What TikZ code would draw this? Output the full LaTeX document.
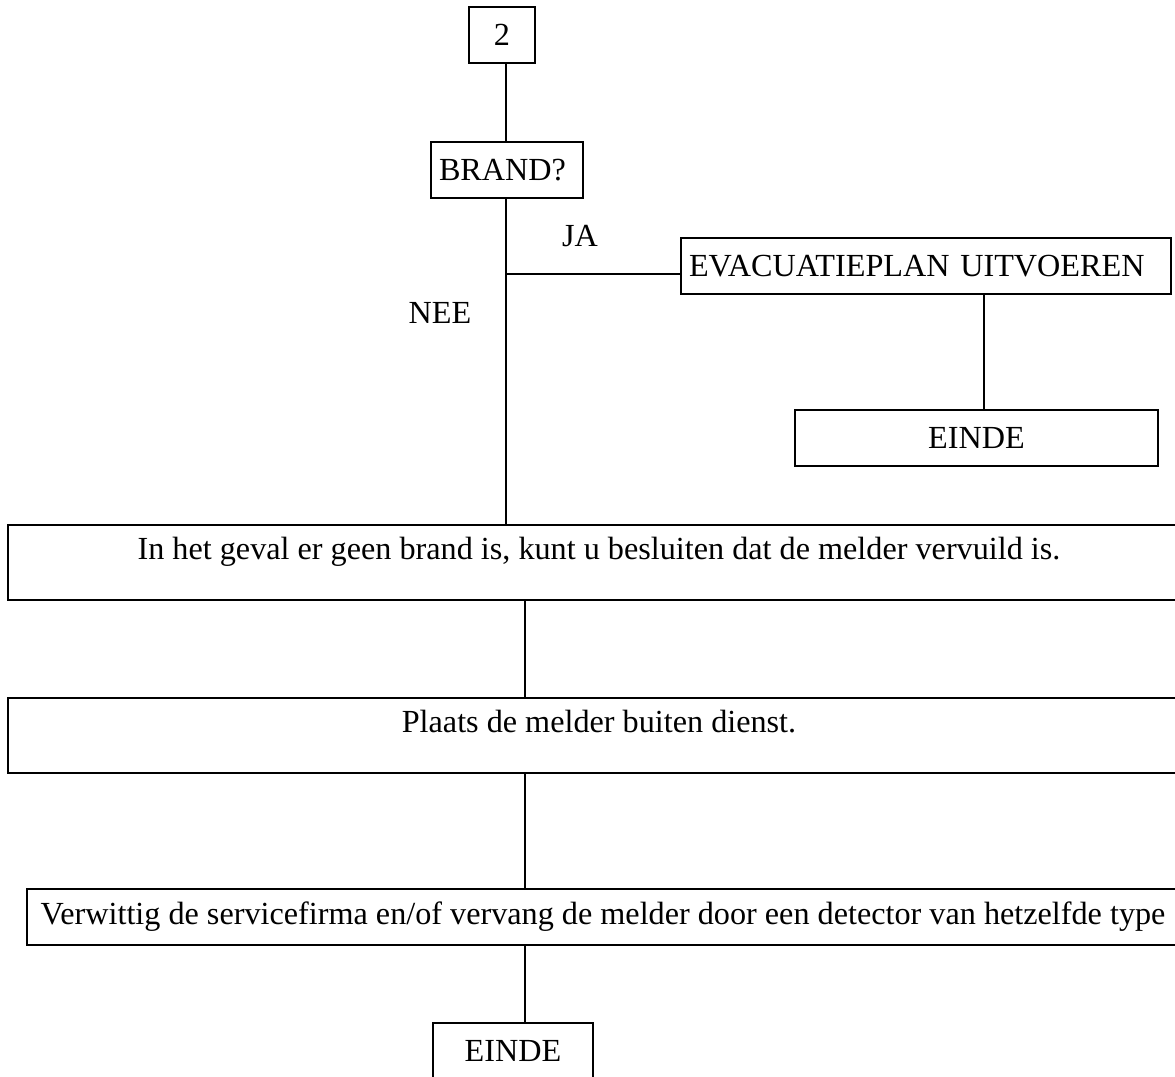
\documentclass[tikz,border=0pt]{standalone}
\usepackage{fontspec}
\setmainfont{Liberation Serif}
\begin{document}
\begin{tikzpicture}[x = 0.5pt, y = -0.5pt, line width = 1pt,
            every node/.style = {font = \fontsize{16.1}{19}\selectfont, inner sep = 0pt},
            box/.style = {draw, minimum height = 28pt, anchor = north west},
            leftbox/.style = {box, align = left, inner xsep = 4pt, text width = #1},
            wide/.style = {box, minimum width = #1, minimum height = 37.5pt,
                text height = 11pt, text depth = 14.5pt}]
            \tikzset{every path/.style = {line width = 1pt}}
            \useasboundingbox (0,0) rectangle (1175,1077);
            \node[box, minimum width = 33pt] (two) at (468,6) {2};
            \node[leftbox = 68pt] (brand) at (430,141) {BRAND?};
            \node[leftbox = 237pt] (evac) at (680,237) {EVACUATIEPLAN UITVOEREN};
            \node[box, minimum width = 181.5pt] (einde1) at (794,409) {EINDE};
            \node[wide = 591pt] (geval) at (7,524)
                {In het geval er geen brand is, kunt u besluiten dat de melder vervuild is.};
            \node[wide = 591pt] (plaats) at (7,697) {Plaats de melder buiten dienst.};
            \node[box, minimum width = 576pt] (verwittig) at (26,888)
                {Verwittig de servicefirma en/of vervang de melder door een detector van hetzelfde type};
            \node[box, minimum width = 80pt] (einde2) at (432,1022) {EINDE};
            \node (ja) at (580,236) {JA};
            \node (nee) at (440,313) {NEE};
            \coordinate (top) at (506,0);
            \coordinate (split) at (506,274);
            \coordinate (evacx) at (984,0);
            \coordinate (trunk) at (525,0);
            \draw (top |- two.south) -- (top |- brand.north);
            \draw (top |- brand.south) -- (top |- geval.north);
            \draw (split) -- (split -| evac.west);
            \draw (evacx |- evac.south) -- (evacx |- einde1.north);
            \draw (trunk |- geval.south) -- (trunk |- plaats.north);
            \draw (trunk |- plaats.south) -- (trunk |- verwittig.north);
            \draw (trunk |- verwittig.south) -- (trunk |- einde2.north);
\end{tikzpicture}
\end{document}
